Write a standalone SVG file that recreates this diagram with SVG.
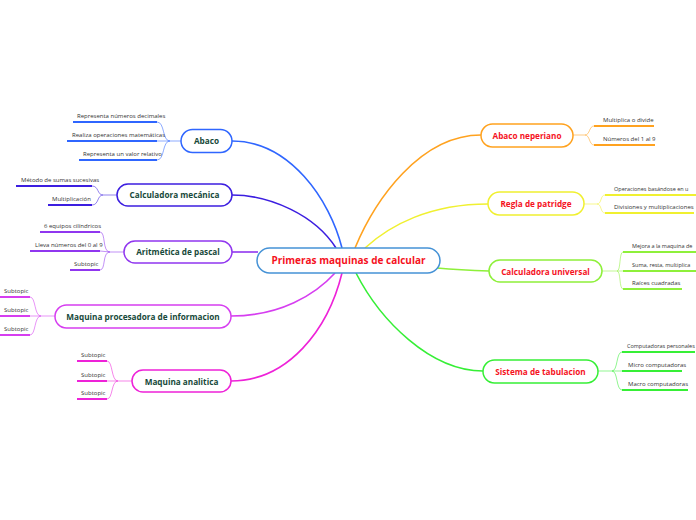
<svg xmlns="http://www.w3.org/2000/svg" width="696" height="520" viewBox="0 0 696 520">
<style>
.bg{fill:#fff}
.node{fill:#fff;stroke-width:1.5}
.lt{font-family:"Open Sans","Noto Sans",sans-serif;font-weight:bold;font-size:8.2px;fill:#17493a;text-anchor:middle}
.rt{font-family:"Open Sans","Noto Sans",sans-serif;font-weight:bold;font-size:8.2px;fill:#f5121e;text-anchor:middle}
.ct{font-family:"Open Sans","Noto Sans",sans-serif;font-weight:bold;font-size:10px;fill:#f5121e;text-anchor:middle}
.st{font-family:"Open Sans","Noto Sans",sans-serif;font-size:6px;fill:#333}
.sm{font-size:5.5px}
.ul{fill:none;stroke-width:2}
.br{fill:none;stroke-width:1;stroke-opacity:0.55}
.mc{fill:none;stroke-width:1.6}
</style>
<rect class="bg" width="696" height="520"/>
<g id="connectors">
<path class="mc" stroke="#2f66ff" d="M232,141 C290,141 330,200 342,248"/>
<path class="mc" stroke="#3c1ee0" d="M232,195 C270,195 315,215 336,248"/>
<path class="mc" stroke="#9036ef" d="M232,252 L258,252"/>
<path class="mc" stroke="#d63ef0" d="M231,316 C280,316 315,295 335,273"/>
<path class="mc" stroke="#ee22d8" d="M231,381 C288,381 328,330 342,273"/>
<path class="mc" stroke="#ffa21f" d="M355,248 C375,200 420,135 481,135"/>
<path class="mc" stroke="#f0f030" d="M365,248 C390,225 430,204 488,204"/>
<path class="mc" stroke="#8ef03a" d="M437,268 Q460,270 489,271"/>
<path class="mc" stroke="#36ef36" d="M356,273 C380,320 430,371 483,371"/>
</g>
<g id="center">
<rect class="node" x="257" y="248" width="183" height="25" rx="12.5" stroke="#4592d6"/>
<text class="ct" x="348.5" y="264">Primeras maquinas de calcular</text>
</g>
<g id="abaco">
<path class="br" stroke="#2f66ff" d="M181,141 L170,141 M170,141 C162,141 165,122 157,122 M170,141 L157,141 M170,141 C162,141 165,160 157,160"/>
<line class="ul" stroke="#2f66ff" x1="73" y1="122" x2="157" y2="122"/>
<line class="ul" stroke="#2f66ff" x1="67" y1="141" x2="157" y2="141"/>
<line class="ul" stroke="#2f66ff" x1="79" y1="160" x2="157" y2="160"/>
<text class="st" x="77" y="118">Representa números decimales</text>
<text class="st" x="72" y="137">Realiza operaciones matemáticas</text>
<text class="st" x="83" y="156">Representa un valor relativo</text>
<rect class="node" x="181" y="129.5" width="51" height="23" rx="11.5" stroke="#2f66ff"/>
<text class="lt" x="206.5" y="144">Abaco</text>
</g>
<g id="calculadora-mecanica">
<path class="br" stroke="#3c1ee0" d="M117,195 L103,195 C97,195 99,186 92,186 M103,195 C97,195 99,205 92,205"/>
<line class="ul" stroke="#3c1ee0" x1="16" y1="186" x2="92" y2="186"/>
<line class="ul" stroke="#3c1ee0" x1="48" y1="205" x2="92" y2="205"/>
<text class="st" x="21" y="182">Método de sumas sucesivas</text>
<text class="st" x="52" y="201">Multiplicación</text>
<rect class="node" x="117" y="184" width="115" height="22" rx="11" stroke="#3c1ee0"/>
<text class="lt" x="174.5" y="198">Calculadora mecánica</text>
</g>
<g id="aritmetica-de-pascal">
<path class="br" stroke="#9036ef" d="M124,252 L110,252 C102,252 106,232 100,232 M110,252 L100,251 M110,252 C102,252 106,270 100,270"/>
<line class="ul" stroke="#9036ef" x1="40" y1="232" x2="100" y2="232"/>
<line class="ul" stroke="#9036ef" x1="30" y1="251" x2="100" y2="251"/>
<line class="ul" stroke="#9036ef" x1="70" y1="270" x2="100" y2="270"/>
<text class="st" x="44" y="228">6 equipos cilíndricos</text>
<text class="st" x="35" y="247">Lleva números del 0 al 9</text>
<text class="st" x="74" y="266">Subtopic</text>
<rect class="node" x="124" y="241" width="108" height="22" rx="11" stroke="#9036ef"/>
<text class="lt" x="178" y="255">Aritmética de pascal</text>
</g>
<g id="maquina-procesadora">
<path class="br" stroke="#d63ef0" d="M55,316 L41,316 C34,316 36,297 30,297 M41,316 L30,316 M41,316 C34,316 36,335 30,335"/>
<line class="ul" stroke="#d63ef0" x1="0" y1="297" x2="30" y2="297"/>
<line class="ul" stroke="#d63ef0" x1="0" y1="316" x2="30" y2="316"/>
<line class="ul" stroke="#d63ef0" x1="0" y1="335" x2="30" y2="335"/>
<text class="st" x="4" y="293">Subtopic</text>
<text class="st" x="4" y="312">Subtopic</text>
<text class="st" x="4" y="331">Subtopic</text>
<rect class="node" x="55" y="305" width="176" height="23" rx="11.5" stroke="#d63ef0"/>
<text class="lt" x="143" y="319.5">Maquina procesadora de informacion</text>
</g>
<g id="maquina-analitica">
<path class="br" stroke="#ee22d8" d="M132,381 L118,381 C111,381 113,361 107,361 M118,381 L107,381 M118,381 C111,381 113,399 107,399"/>
<line class="ul" stroke="#ee22d8" x1="77" y1="361" x2="107" y2="361"/>
<line class="ul" stroke="#ee22d8" x1="77" y1="381" x2="107" y2="381"/>
<line class="ul" stroke="#ee22d8" x1="77" y1="399" x2="107" y2="399"/>
<text class="st" x="81" y="357">Subtopic</text>
<text class="st" x="81" y="377">Subtopic</text>
<text class="st" x="81" y="395">Subtopic</text>
<rect class="node" x="132" y="370" width="99" height="22" rx="11" stroke="#ee22d8"/>
<text class="lt" x="181.5" y="384.5">Maquina analitica</text>
</g>
<g id="abaco-neperiano">
<path class="br" stroke="#ffa21f" d="M573,135 L585,135 C590,135 589,126 594,126 M585,135 C590,135 589,145 594,145"/>
<line class="ul" stroke="#ffa21f" x1="594" y1="126" x2="654" y2="126"/>
<line class="ul" stroke="#ffa21f" x1="594" y1="145" x2="655" y2="145"/>
<text class="st" x="603" y="122">Multiplica o divide</text>
<text class="st" x="603" y="141">Números del 1 al 9</text>
<rect class="node" x="481" y="124" width="92" height="23" rx="11.5" stroke="#ffa21f"/>
<text class="rt" x="527" y="138.5">Abaco neperiano</text>
</g>
<g id="regla-de-patridge">
<path class="br" stroke="#f0f030" d="M584,204 L597,204 C602,204 600,195 605,195 M597,204 C602,204 600,213 605,213"/>
<line class="ul" stroke="#f0f030" x1="605" y1="195" x2="696" y2="195"/>
<line class="ul" stroke="#f0f030" x1="605" y1="213" x2="694" y2="213"/>
<text class="st sm" x="614" y="191">Operaciones basándose en u</text>
<text class="st" x="614" y="209">Divisiones y multiplicaciones</text>
<rect class="node" x="488" y="192" width="96" height="23" rx="11.5" stroke="#f0f030"/>
<text class="rt" x="536" y="206.5">Regla de patridge</text>
</g>
<g id="calculadora-universal">
<path class="br" stroke="#8ef03a" d="M602,271 L617,271 C621,271 619,252 623,252 M617,271 L623,271 M617,271 C621,271 619,289 623,289"/>
<line class="ul" stroke="#8ef03a" x1="623" y1="252" x2="696" y2="252"/>
<line class="ul" stroke="#8ef03a" x1="623" y1="271" x2="696" y2="271"/>
<line class="ul" stroke="#8ef03a" x1="623" y1="289" x2="682" y2="289"/>
<text class="st sm" x="632" y="248">Mejora a la maquina de</text>
<text class="st sm" x="632" y="267">Suma, resta, multiplica</text>
<text class="st" x="632" y="285">Raíces cuadradas</text>
<rect class="node" x="489" y="260" width="113" height="22" rx="11" stroke="#8ef03a"/>
<text class="rt" x="545.5" y="274.5">Calculadora universal</text>
</g>
<g id="sistema-de-tabulacion">
<path class="br" stroke="#36ef36" d="M598,371 L612,371 C618,371 616,352 622,352 M612,371 L622,371 M612,371 C618,371 616,390 622,390"/>
<line class="ul" stroke="#36ef36" x1="622" y1="352" x2="695" y2="352"/>
<line class="ul" stroke="#36ef36" x1="622" y1="371" x2="682" y2="371"/>
<line class="ul" stroke="#36ef36" x1="622" y1="390" x2="688" y2="390"/>
<text class="st sm" x="627" y="348">Computadoras personales</text>
<text class="st" x="628" y="367">Micro computadoras</text>
<text class="st" x="628" y="386">Macro computadoras</text>
<rect class="node" x="483" y="360" width="115" height="23" rx="11.5" stroke="#36ef36"/>
<text class="rt" x="540.5" y="374.5">Sistema de tabulacion</text>
</g>
</svg>
